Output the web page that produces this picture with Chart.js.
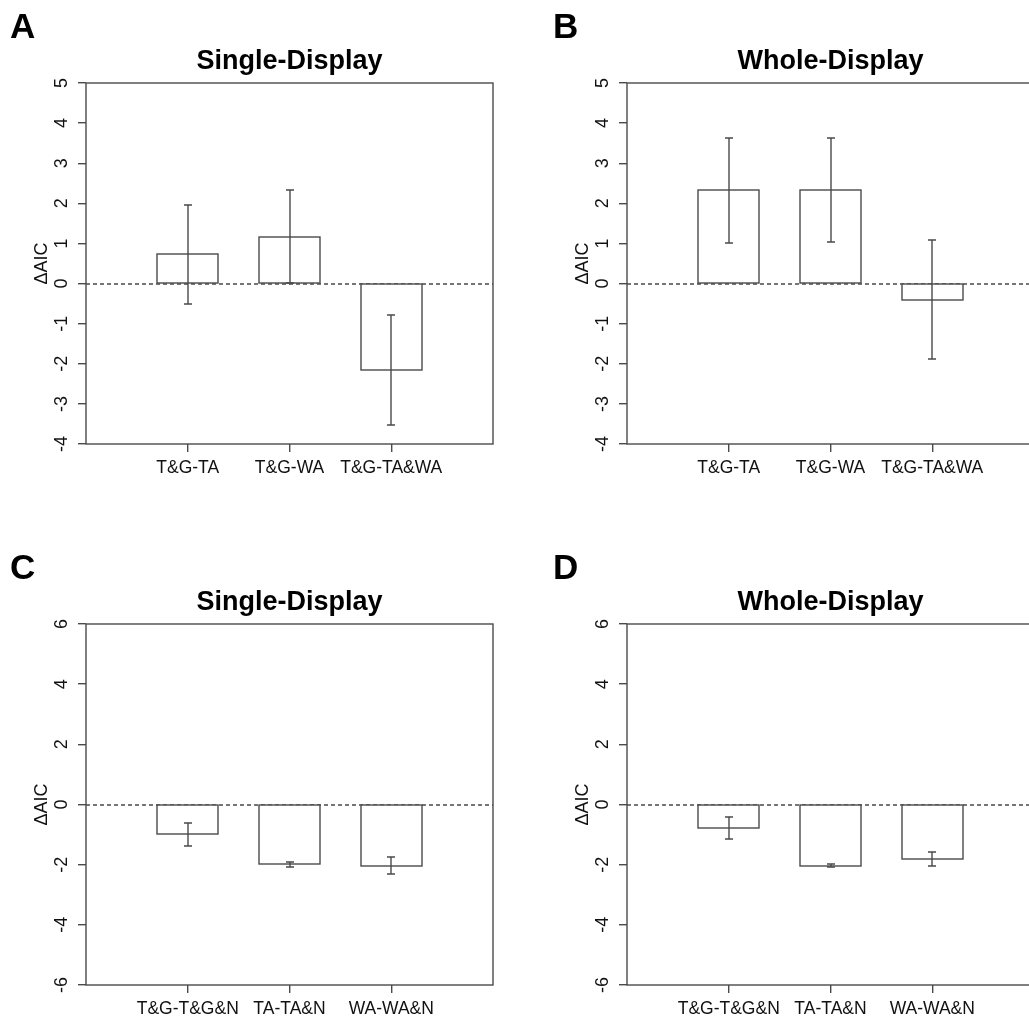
<!DOCTYPE html>
<html lang="en">
<head>
	<meta charset="UTF-8">
	<title>Delta AIC</title>
	<script src="https://cdn.jsdelivr.net/npm/chart.js"></script>
	<style>
		html, body { margin: 0; padding: 0; background: #fff; overflow: hidden; }
		#page { position: relative; width: 1029px; height: 1019px; overflow: hidden; }
		canvas { position: absolute; }
	</style>
</head>
<body>
<div id="page">
	<canvas id="chartA" width="515" height="510" style="left:0px;top:0px"></canvas>
	<canvas id="chartB" width="515" height="510" style="left:541px;top:0px"></canvas>
	<canvas id="chartC" width="515" height="510" style="left:0px;top:541px"></canvas>
	<canvas id="chartD" width="515" height="510" style="left:541px;top:541px"></canvas>
</div>
<script>
	// categories
	const catsTop = ['T&G-TA', 'T&G-WA', 'T&G-TA&WA'];
	const catsBottom = ['T&G-T&G&N', 'TA-TA&N', 'WA-WA&N'];

	// mean delta AIC and error bar half-widths
	const meanA = [0.73, 1.17, -2.16];
	const errA = [1.23, 1.15, 1.37];
	const meanB = [2.32, 2.34, -0.40];
	const errB = [1.32, 1.30, 1.48];
	const meanC = [-0.99, -1.99, -2.03];
	const errC = [0.39, 0.08, 0.29];
	const meanD = [-0.79, -2.04, -1.81];
	const errD = [0.37, 0.05, 0.22];

	// y tick labels
	const ticksTop = [-4, -3, -2, -1, 0, 1, 2, 3, 4, 5];
	const ticksBottom = [-6, -4, -2, 0, 2, 4, 6];

	const FONT = '"Liberation Sans", Arial, Helvetica, sans-serif';
	const LINE = '#4a4a4a';
	const LW = 1.4;

	// padding the x axis with empty slots so bars sit at 1,2,3 of 0..4 like the R plot
	const pad = arr => [null, ...arr, null];
	const padLabels = arr => ['', ...arr, ''];

	const decor = {
		id: 'decor',
		beforeDatasetsDraw(chart, args, opts) {
			const { ctx, chartArea: a, scales: { y } } = chart;
			const y0 = Math.round(y.getPixelForValue(0));
			ctx.save();
			ctx.strokeStyle = LINE;
			ctx.lineWidth = LW;
			ctx.setLineDash([4, 3]);
			ctx.beginPath();
			ctx.moveTo(a.left, y0);
			ctx.lineTo(a.right, y0);
			ctx.stroke();
			ctx.restore();
		},
		afterDatasetsDraw(chart, args, opts) {
			const { ctx, chartArea: a, scales: { y } } = chart;
			const ds = chart.data.datasets[0];
			const meta = chart.getDatasetMeta(0);
			ctx.save();
			ctx.strokeStyle = LINE;
			ctx.lineWidth = LW;

			ds.data.forEach((m, i) => {
				if (m === null) return;
				const bar = meta.data[i];
				// bar outline centred on the edges, so the zero edge sits on the dashed line
				const x1 = Math.round(bar.x - bar.width / 2), x2 = Math.round(bar.x + bar.width / 2);
				const ya = Math.round(bar.y), yb0 = Math.round(bar.base);
				ctx.strokeRect(x1, Math.min(ya, yb0), x2 - x1, Math.abs(yb0 - ya));

				// error bar
				const e = ds.errors[i];
				const x = Math.round(bar.x);
				const yt = Math.round(y.getPixelForValue(m + e));
				const yb = Math.round(y.getPixelForValue(m - e));
				ctx.beginPath();
				ctx.moveTo(x, yt); ctx.lineTo(x, yb);
				ctx.moveTo(x - 4, yt); ctx.lineTo(x + 4, yt);
				ctx.moveTo(x - 4, yb); ctx.lineTo(x + 4, yb);
				ctx.stroke();
			});

			// box around plot
			const l = Math.round(a.left), t = Math.round(a.top);
			ctx.strokeRect(l, t, Math.round(a.right) - l, Math.round(a.bottom) - t);

			// rotated y tick labels, like R's default las
			ctx.fillStyle = '#111';
			ctx.textAlign = 'center';
			ctx.textBaseline = 'middle';
			ctx.font = '18px ' + FONT;
			y.ticks.forEach(tk => {
				ctx.save();
				ctx.translate(62, y.getPixelForValue(tk.value));
				ctx.rotate(-Math.PI / 2);
				ctx.fillText(String(tk.value), 0, 0);
				ctx.restore();
			});

			// y axis title
			ctx.font = '18px ' + FONT;
			ctx.save();
			ctx.translate(42.5, (a.top + a.bottom) / 2);
			ctx.rotate(-Math.PI / 2);
			ctx.fillText('\u0394AIC', 0, 0);
			ctx.restore();

			// panel title
			ctx.fillStyle = '#000';
			ctx.textBaseline = 'alphabetic';
			ctx.font = 'bold 27px ' + FONT;
			ctx.fillText(opts.title, (a.left + a.right) / 2, 69);

			// panel letter
			ctx.textAlign = 'left';
			ctx.font = 'bold 35px ' + FONT;
			ctx.fillText(opts.letter, opts.letterX, 37.5);
			ctx.restore();
		}
	};

	function makeChart(id, letter, letterX, title, cats, means, errs, yTicks) {
		const ctx = document.getElementById(id).getContext('2d');
		return new Chart(ctx, {
			type: 'bar',
			data: {
				labels: padLabels(cats),
				datasets: [{
					data: pad(means),
					errors: pad(errs),
					backgroundColor: '#ffffff',
					borderWidth: 0,
					barPercentage: 0.6,
					categoryPercentage: 1
				}]
			},
			options: {
				responsive: false,
				animation: false,
				devicePixelRatio: 1,
				layout: { padding: { left: 46, top: 83, right: 22, bottom: 0 } },
				plugins: {
					legend: { display: false },
					tooltip: { enabled: false },
					decor: { title: title, letter: letter, letterX: letterX }
				},
				scales: {
					x: {
						type: 'category',
						offset: false,
						border: { display: false },
						grid: {
							offset: false,
							drawOnChartArea: false,
							tickLength: 8,
							lineWidth: LW,
							tickWidth: LW,
							tickColor: c => (c.tick && c.tick.label === '') ? 'rgba(0,0,0,0)' : LINE
						},
						ticks: {
							autoSkip: false,
							maxRotation: 0,
							minRotation: 0,
							padding: 6,
							color: '#111',
							font: { family: FONT, size: 17.5 }
						},
						afterFit: s => { s.height = 66; }
					},
					y: {
						min: yTicks[0],
						max: yTicks[yTicks.length - 1],
						border: { display: false },
						grid: { drawOnChartArea: false, tickLength: 8, lineWidth: LW, tickWidth: LW, tickColor: LINE },
						ticks: { display: false },
						afterBuildTicks: s => { s.ticks = yTicks.map(v => ({ value: v })); },
						afterFit: s => { s.width = 40; }
					}
				}
			},
			plugins: [decor]
		});
	}

	makeChart('chartA', 'A', 10, 'Single-Display', catsTop, meanA, errA, ticksTop);
	makeChart('chartB', 'B', 12, 'Whole-Display', catsTop, meanB, errB, ticksTop);
	makeChart('chartC', 'C', 10, 'Single-Display', catsBottom, meanC, errC, ticksBottom);
	makeChart('chartD', 'D', 12, 'Whole-Display', catsBottom, meanD, errD, ticksBottom);
</script>
</body>
</html>
